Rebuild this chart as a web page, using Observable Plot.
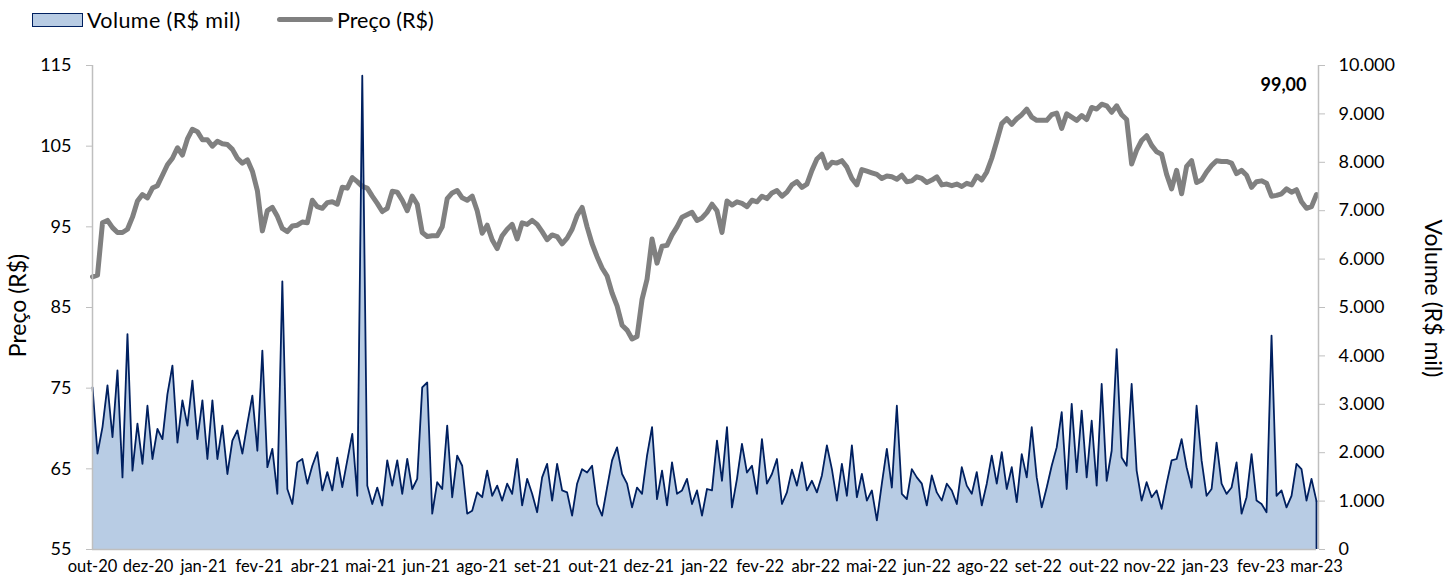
<!DOCTYPE html>
<html><head><meta charset="utf-8">
<script src="https://cdn.jsdelivr.net/npm/d3@7"></script>
<script src="https://cdn.jsdelivr.net/npm/@observablehq/plot@0.6"></script>
<style>
body{margin:0;background:#fff;font-family:Lato,sans-serif;color:#000;}
#legend{position:relative;height:40px;width:1454px;}
#legend .t{position:absolute;top:8px;font-size:21.5px;line-height:24px;white-space:nowrap;}
#chart svg{display:block;}
</style></head><body>
<div id="legend">
  <div style="position:absolute;left:32px;top:13px;width:49px;height:12px;background:#b8cce4;border:1.5px solid #002060"></div>
  <span class="t" style="left:87px;letter-spacing:0.4px">Volume (R$ mil)</span>
  <div style="position:absolute;left:277px;top:17px;width:56px;height:5px;background:#808080;border-radius:3px"></div>
  <span class="t" style="left:337px">Preço (R$)</span>
</div>
<div id="chart"></div>
<script>
const tickLabels = ["out-20","dez-20","jan-21","fev-21","abr-21","mai-21","jun-21","ago-21","set-21","out-21","dez-21","jan-22","fev-22","abr-22","mai-22","jun-22","ago-22","set-22","out-22","nov-22","jan-23","fev-23","mar-23"];

const price = [
88.8,89.0,95.5,95.8,94.9,94.3,94.3,94.7,96.2,98.2,
99.0,98.6,99.8,100.1,101.4,102.7,103.5,104.8,103.9,105.9,
107.1,106.8,105.8,105.8,105.0,105.6,105.3,105.2,104.6,103.5,
102.9,103.3,101.9,99.5,94.5,97.0,97.4,96.3,94.8,94.4,
95.1,95.2,95.6,95.5,98.3,97.5,97.3,98.0,98.1,97.8,
99.9,99.8,101.1,100.6,100.0,99.8,98.8,97.9,96.9,97.3,
99.4,99.3,98.3,97.0,98.8,97.8,94.3,93.8,93.9,93.9,
95.0,98.5,99.2,99.5,98.6,98.3,98.8,97.0,94.2,95.2,
93.4,92.3,93.9,94.7,95.3,93.5,95.5,95.3,95.8,95.3,
94.4,93.4,94.0,93.8,92.9,93.6,94.7,96.4,97.4,95.0,
92.9,91.3,89.9,88.9,86.8,85.2,82.8,82.2,81.1,81.4,
86.0,88.5,93.5,90.5,92.6,92.7,94.0,95.0,96.2,96.5,
96.8,95.8,96.1,96.8,97.8,97.0,94.3,98.2,97.7,98.1,
97.9,97.5,98.3,98.1,98.8,98.5,99.2,99.5,98.8,99.3,
100.2,100.6,99.9,100.3,102.0,103.4,104.0,102.3,103.0,102.9,
103.2,102.4,101.0,100.2,102.1,101.9,101.7,101.5,101.0,101.3,
101.2,100.9,101.4,100.6,100.7,101.2,101.0,100.5,100.8,101.2,
100.2,100.3,100.1,100.3,100.0,100.4,100.2,101.3,100.8,101.8,
103.5,105.6,107.8,108.4,107.7,108.4,108.9,109.6,108.6,108.2,
108.2,108.2,108.9,109.1,107.2,109.0,108.6,108.2,108.8,108.3,
109.8,109.6,110.2,110.0,109.2,110.0,108.9,108.3,102.8,104.5,
105.7,106.3,105.1,104.3,104.0,101.5,99.7,102.0,99.1,102.5,
103.2,100.5,100.8,101.8,102.6,103.2,103.1,103.1,102.9,101.6,
102.0,101.4,99.9,100.6,100.7,100.4,98.8,98.9,99.1,99.7,
99.3,99.6,98.1,97.3,97.5,99.0
];

const volume = [
3350,1980,2530,3390,2320,3700,1490,4450,1630,2600,
1770,2970,1870,2490,2280,3210,3800,2210,3080,2560,
3490,2280,3080,1870,3080,1870,2560,1560,2250,2460,
1980,2600,3180,2040,4110,1700,2080,1150,5540,1250,
940,1800,1870,1360,1730,2010,1220,1600,1220,1900,
1290,1840,2390,1110,9790,1320,940,1280,910,1840,
1320,1840,1150,1870,1250,1460,3350,3450,740,1390,
1250,2560,1080,1940,1730,740,800,1180,1080,1630,
1110,1320,1010,1360,1150,1870,910,1460,1150,770,
1490,1770,1010,1770,1220,1180,700,1360,1660,1590,
1730,940,700,1280,1840,2110,1560,1360,870,1280,
1150,1940,2530,1040,1630,910,1800,1150,1220,1460,
940,1220,700,1250,1220,2250,1420,2530,870,1460,
2180,1590,1730,1150,2280,1360,1560,1870,940,1180,
1650,1320,1800,1220,1420,1180,1530,2150,1660,1010,
1770,1110,2150,1080,1560,1010,1220,600,1360,2080,
1280,2970,1150,1040,1660,1490,1360,910,1530,1180,
1010,1360,1220,940,1700,1320,1150,1600,910,1360,
1940,1360,2010,1250,1700,980,1970,1490,2530,1490,
870,1280,1730,2110,2840,1250,3010,1600,2870,1490,
2660,1320,3420,1420,2040,4140,1900,1730,3420,1630,
1010,1390,1080,1220,840,1360,1840,1870,2280,1700,
1280,2970,1840,1110,1250,2210,1360,1150,1280,1800,
740,1080,1970,1010,940,770,4420,1110,1220,870,
1110,1770,1660,1010,1460,1000
];

const priceTicks = [55,65,75,85,95,105,115];
const volumeTicks = [0,1000,2000,3000,4000,5000,6000,7000,8000,9000,10000];

const N = price.length;
const data = price.map((p, i) => ({i, price: p, volume: volume[i]}));
const pDom = [priceTicks[0], priceTicks[priceTicks.length - 1]];
const vDom = [volumeTicks[0], volumeTicks[volumeTicks.length - 1]];
const v2p = d3.scaleLinear(vDom, pDom);
const xTicks = tickLabels.map((_, k) => k * (N - 1) / (tickLabels.length - 1));
const br = d3.formatLocale({decimal: ",", thousands: ".", grouping: [3], currency: ["R$ ", ""]});
const fmtVol = br.format(",d");
const fmtPrice = br.format(",.2f");
const axisGray = "#bfbfbf";

const chart = Plot.plot({
  width: 1454, height: 545,
  marginTop: 25, marginBottom: 36, marginLeft: 92, marginRight: 138,
  style: {fontFamily: "Lato, sans-serif", fontSize: "18px", color: "#000", background: "#fff"},
  x: {domain: [0, N - 1], axis: null},
  y: {domain: pDom, axis: null},
  marks: [
    Plot.areaY(data, {x: "i", y1: pDom[0], y2: d => v2p(d.volume), fill: "#b8cce4"}),
    Plot.lineY(data, {x: "i", y: "price", stroke: "#808080", strokeWidth: 5, strokeLinejoin: "round", strokeLinecap: "round"}),
    Plot.lineY(data, {x: "i", y: d => v2p(d.volume), stroke: "#002060", strokeWidth: 1.8, strokeLinejoin: "round"}),
    Plot.ruleX([N - 1], {y1: pDom[0], y2: v2p(volume[N - 1]), stroke: "#002060", strokeWidth: 1.8}),
    Plot.ruleY([pDom[0]], {stroke: axisGray, strokeWidth: 1.5}),
    Plot.ruleX([0], {stroke: axisGray, strokeWidth: 1.5}),
    Plot.ruleX([N - 1], {dx: 2, stroke: axisGray, strokeWidth: 1.5}),
    Plot.axisY(priceTicks, {anchor: "left", tickSize: 6, tickPadding: 15, stroke: axisGray, fill: "#000", label: null}),
    Plot.axisY(volumeTicks.map(v => v2p(v)), {anchor: "right", tickSize: 6, tickPadding: 14, dx: 2, stroke: axisGray, fill: "#000", label: null, tickFormat: d => fmtVol(Math.round(v2p.invert(d)))}),
    Plot.axisX(xTicks, {anchor: "bottom", tickSize: 0, tickPadding: 11, label: null, fill: "#000", fontSize: 16.5, tickFormat: d => tickLabels[xTicks.indexOf(d)]}),
    Plot.text(["Preço (R$)"], {frameAnchor: "left", dx: -74, dy: -2, rotate: -90, textAnchor: "middle", fontSize: 23, fill: "#000"}),
    Plot.text(["Volume (R$ mil)"], {frameAnchor: "right", dx: 116, dy: -9, rotate: 90, textAnchor: "middle", fontSize: 23, fill: "#000"}),
    Plot.text([price[N - 1]], {frameAnchor: "top-right", dx: -10, dy: 13, textAnchor: "end", lineAnchor: "top", fontWeight: "bold", fontSize: 18, fill: "#000", text: d => fmtPrice(d)})
  ]
});
document.getElementById("chart").appendChild(chart);
</script>
</body></html>
